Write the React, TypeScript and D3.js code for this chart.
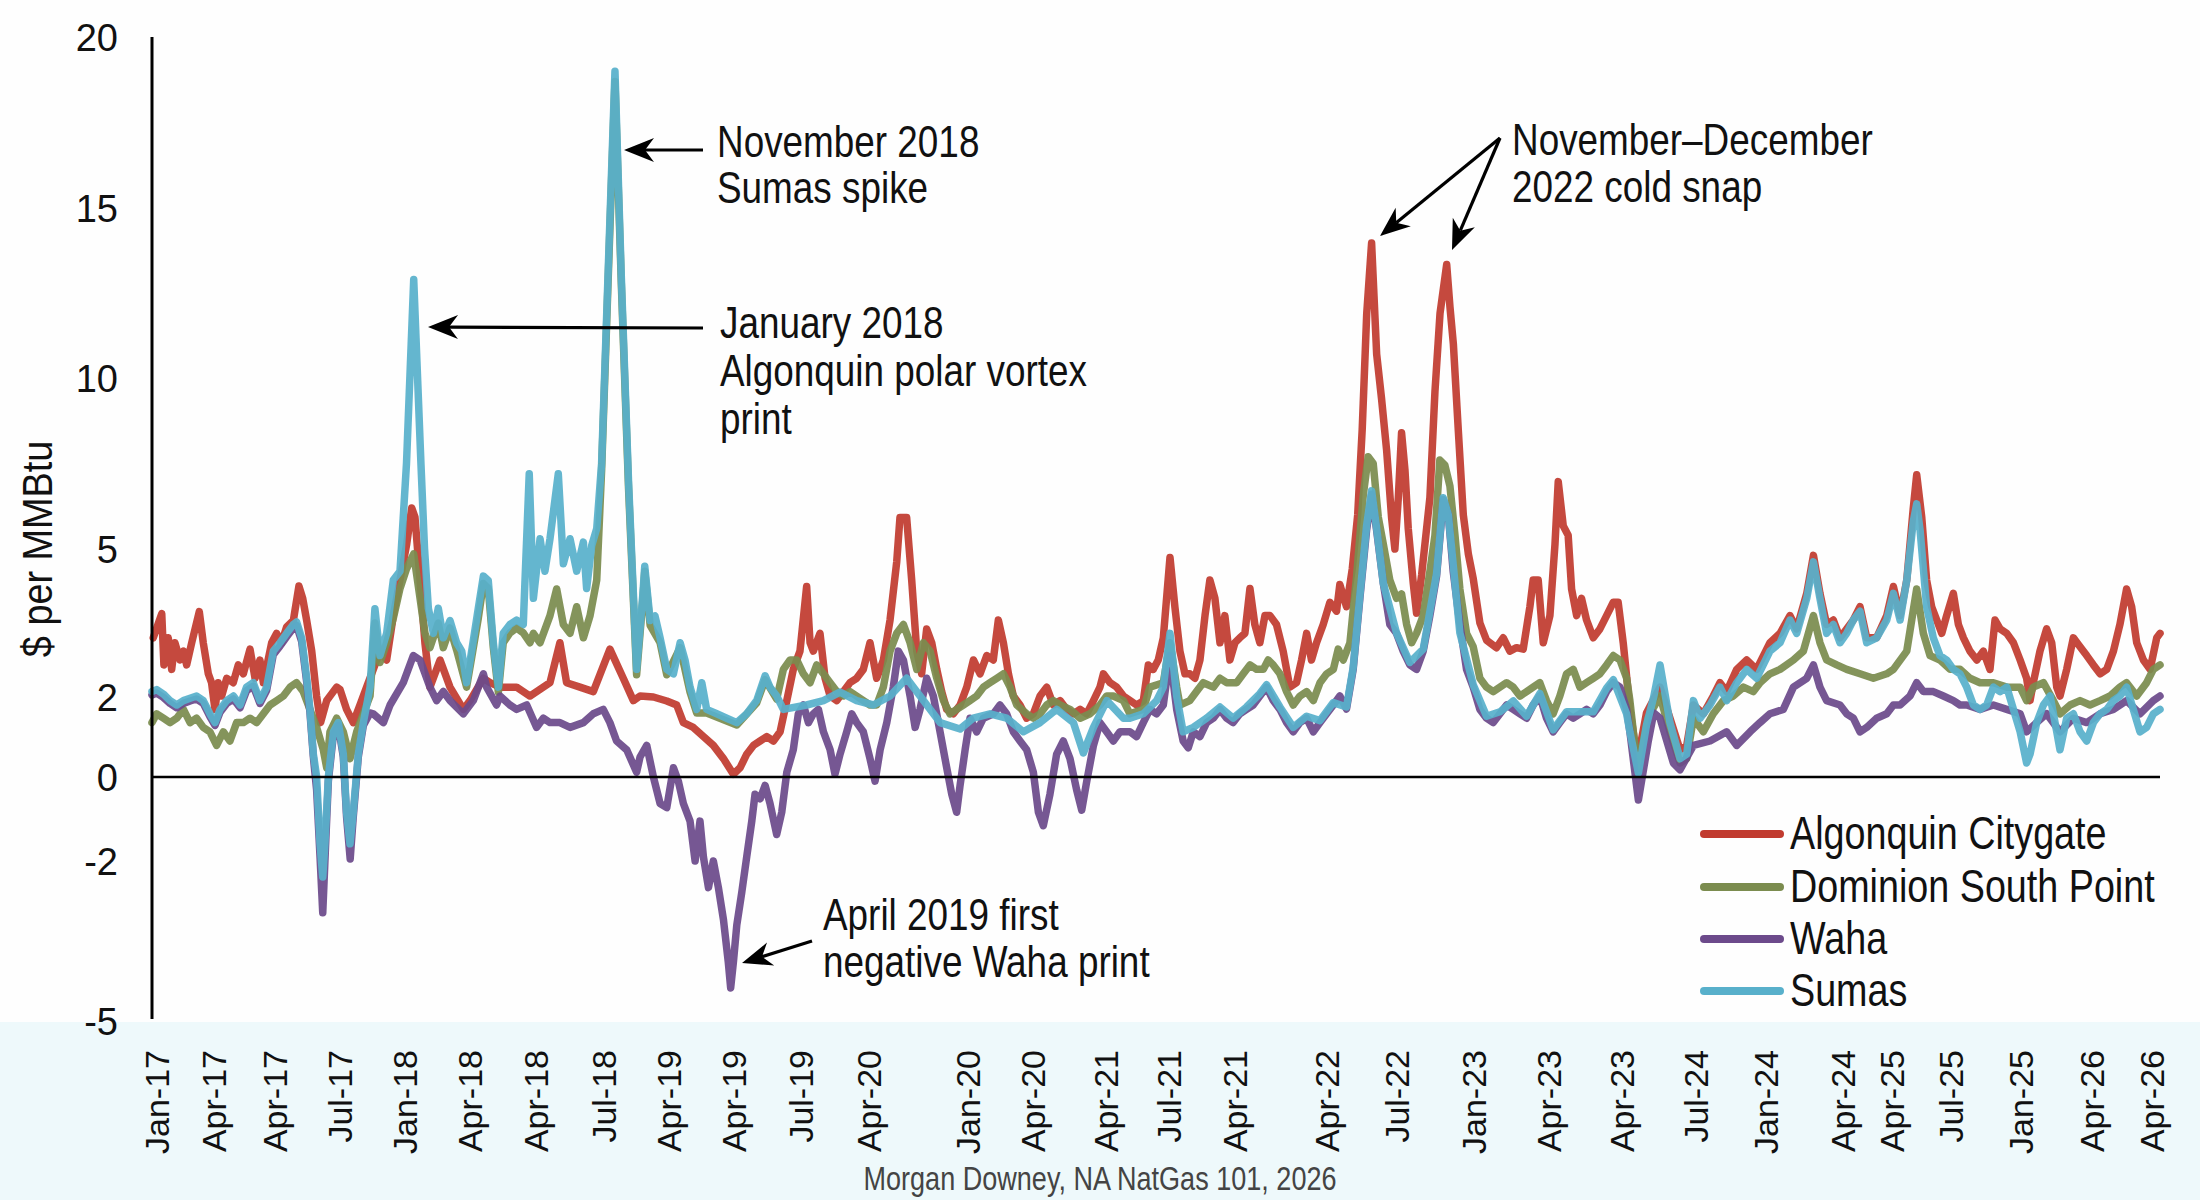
import React from "react";
import * as d3 from "d3";

type Pt = [number, number];

// x values are months since Jan-2017, y values are $ per MMBtu
const seriesNames = ["Algonquin Citygate", "Dominion South Point", "Waha", "Sumas"];
const seriesColors = ["#c13b2f", "#7b8c4f", "#6c4a8b", "#58b0cb"];

const algonquin: Pt[] = [
  [0.07,3.2],[0.54,3.69],[0.66,2.65],[0.9,3.2],[1.09,2.56],[1.27,3.1],[1.55,2.75],[1.74,2.93],[1.92,2.65],[2.2,3.1],[2.62,3.73],[2.84,3.1],[3.12,2.47],[3.3,2.29],[3.49,1.69],[3.67,2.29],[3.86,2.02],[4.14,2.38],[4.5,2.29],[4.78,2.65],[5.06,2.47],[5.43,2.97],[5.71,2.38],[5.98,2.75],[6.17,2.29],[6.63,3.1],[6.9,3.29],[7.18,3.1],[7.46,3.42],[7.83,3.55],[8.14,4.25],[8.35,4.0],[8.57,3.55],[8.85,2.93],[9.12,2.02],[9.34,1.36],[9.68,1.91],[10.23,2.2],[10.42,2.15],[10.78,1.69],[11.15,1.36],[11.52,1.8],[11.89,2.2],
  [12.26,2.56],[12.63,2.93],[13.0,2.75],[13.37,3.65],[13.74,4.37],[14.11,5.14],[14.39,6.2],[14.57,5.93],[14.85,4.37],[15.12,3.1],[15.4,2.2],[15.96,2.75],[16.51,2.2],[17.25,1.69],[17.62,1.91],[18.36,2.38],[18.73,2.29],[19.28,2.2],[20.2,2.2],[20.94,2.02],[22.05,2.29],[22.6,3.1],[22.97,2.29],[23.71,2.2],[24.45,2.11],[25.37,2.97],[26.11,2.38],[26.67,1.91],
  [27.04,2.02],[27.78,2.0],[28.52,1.9],[29.07,1.8],[29.44,1.36],[29.99,1.24],[30.55,1.01],[31.1,0.79],[31.66,0.46],[32.21,0.07],[32.58,0.23],[32.95,0.57],[33.32,0.79],[33.69,0.9],[34.06,1.01],[34.43,0.9],[34.8,1.13],[35.17,1.91],[35.53,2.56],[35.9,2.93],[36.27,4.24],[36.46,3.1],[36.64,2.93],[37.01,3.29],[37.29,2.38],[37.57,2.02],[37.94,1.91],[38.3,2.11],[38.67,2.29],[39.04,2.38],[39.41,2.56],[39.78,3.1],[40.15,2.38],[40.52,2.75],[40.89,3.56],[41.26,4.74],[41.44,5.92],[41.81,5.92],[42.09,4.37],[42.37,2.93],[42.64,2.47],[42.92,3.38],[43.2,3.1],[43.48,2.56],[43.75,2.11],[44.03,1.69],[44.4,1.58],[44.77,1.8],[45.14,2.2],[45.51,2.75],[45.88,2.47],[46.25,2.84],[46.61,2.75],[46.89,3.56],[47.17,3.1],[47.45,2.47],[47.72,2.02],[48.09,1.8],[48.46,1.47],[48.83,1.58],[49.2,2.02],[49.57,2.2],[49.94,1.8],[50.31,1.91],[50.68,1.69],[51.05,1.58],[51.42,1.69],[51.79,1.58],[52.16,1.91],[52.52,2.2],[52.71,2.47],[53.08,2.29],[53.45,2.2],[53.82,2.02],[54.19,1.91],
  [54.55,1.8],[54.92,1.9],[55.2,2.65],[55.47,2.56],[55.75,2.75],[56.03,3.2],[56.4,4.83],[56.67,3.83],[56.95,2.93],[57.23,2.47],[57.5,2.47],[57.78,2.38],[58.06,2.75],[58.34,3.65],[58.61,4.37],[58.89,4.0],[59.17,3.1],[59.44,3.65],[59.72,2.75],[60.0,3.1],[60.27,3.2],[60.55,3.29],[60.83,4.2],[61.1,3.47],[61.38,3.1],[61.66,3.65],[61.94,3.65],[62.3,3.47],[62.67,2.93],[63.04,2.2],[63.41,2.29],[63.69,2.75],[63.97,3.29],[64.24,2.75],[64.52,3.1],[64.89,3.47],[65.26,3.92],[65.63,3.74],[65.81,4.28],[66.18,3.83],[66.5,4.6],[66.8,6.0],[67.05,8.5],[67.3,11.9],[67.57,13.97],[67.85,10.7],[68.12,9.4],[68.4,7.9],[68.68,5.9],[68.86,5.0],[69.05,6.5],[69.23,8.4],[69.42,7.3],[69.6,5.6],[69.88,4.3],[70.06,3.7],[70.34,4.47],[70.8,6.5],[71.08,9.6],[71.36,11.9],[71.73,13.34],[71.91,12.1],[72.1,11.0],[72.37,8.5],[72.65,6.0],[72.93,4.9],[73.2,4.4],[73.57,3.5],[73.94,3.15],[74.12,3.1],[74.49,3.0],[74.86,3.2],[75.23,2.93],[75.6,3.0],[75.97,2.97],[76.34,3.83],[76.52,4.37],[76.8,4.37],[77.08,3.1],[77.45,3.65],[77.73,5.14],[77.91,6.97],[78.19,5.67],[78.46,5.4],[78.65,4.19],[78.93,3.65],[79.2,4.0],[79.48,3.56],[79.85,3.2],[80.22,3.38],[80.59,3.65],[80.96,3.92],[81.23,3.92],[81.51,3.1],[81.88,1.7],[82.3,0.4],[82.8,1.6],
  [83.55,2.2],[84.1,1.47],[84.66,0.68],[85.03,0.79],[85.4,1.8],[85.95,1.58],[86.5,2.02],[86.87,2.29],[87.24,2.11],[87.8,2.56],[88.35,2.75],[88.9,2.56],[89.64,3.1],[90.2,3.29],[90.75,3.65],[91.12,3.38],[91.68,4.1],[92.05,4.87],[92.41,4.1],[92.78,3.47],[93.15,3.56],[93.52,3.2],[93.89,3.38],[94.26,3.56],[94.63,3.83],[95.0,3.2],[95.55,3.2],[96.11,3.65],[96.48,4.24],[96.85,3.65],[97.22,4.37],[97.58,6.19],[97.77,7.17],[98.05,5.93],[98.32,4.37],[98.6,3.83],[98.88,3.56],[99.16,3.29],[99.43,3.65],[99.8,4.1],[100.08,3.47],[100.36,3.2],[100.72,2.93],[101.1,2.75],[101.46,2.93],[101.83,2.56],[102.11,3.56],[102.39,3.38],[102.76,3.29],[103.13,3.1],[103.5,2.75],[103.86,2.38],[104.05,1.91],[104.23,2.29],[104.6,2.93],[104.97,3.38],[105.25,3.1],[105.53,2.2],[105.71,2.02],[106.08,2.56],[106.45,3.2],[106.82,3.02],[107.19,2.84],[107.56,2.65],[107.93,2.47],[108.3,2.56],[108.67,2.93],[109.03,3.47],[109.4,4.19],[109.68,3.83],[109.96,3.1],[110.33,2.75],[110.7,2.56],[111.07,3.2],[111.25,3.29],
];

const dominion: Pt[] = [
  [0,1.36],[0.26,1.58],[0.63,1.47],[1.0,1.36],[1.37,1.47],[1.74,1.69],[2.11,1.36],[2.47,1.47],[2.84,1.24],[3.21,1.13],[3.58,0.79],[3.95,1.13],[4.32,0.9],[4.69,1.36],[5.06,1.36],[5.43,1.47],[5.8,1.36],[6.17,1.58],[6.54,1.8],[6.91,1.91],[7.28,2.02],[7.65,2.2],[8.01,2.29],[8.38,2.11],[8.75,1.69],[9.12,1.24],[9.49,0.68],[9.68,0.23],[9.86,1.13],[10.23,1.47],[10.6,1.13],[10.97,0.46],[11.34,1.13],[11.71,1.58],[12.08,2.02],
  [12.35,3.5],[12.63,2.7],[13.0,3.1],[13.37,3.6],[13.74,4.2],[14.1,4.6],[14.5,4.9],[14.85,4.0],[15.12,3.3],[15.4,3.0],[15.86,3.5],[16.14,3.0],[16.51,3.4],[16.88,2.95],[17.43,2.2],[17.71,2.8],[18.08,3.6],[18.36,4.3],[18.63,4.2],[18.91,3.0],[19.19,2.1],[19.46,3.1],[19.83,3.3],[20.2,3.4],[20.57,3.3],[20.94,3.1],[21.13,3.29],[21.5,3.1],[22.05,3.65],[22.42,4.19],[22.79,3.47],[23.16,3.29],[23.53,3.83],[23.9,3.2],[24.27,3.65],[24.64,4.37],[24.91,7.3],[25.65,18.7],[26.0,12.8],[26.4,6.8],[26.85,2.45],[27.2,4.0],[27.3,4.55],[27.6,3.45],[28.15,3.1],[28.52,2.45],[29.26,3.0],[29.81,2.1],[30.18,1.6],[30.73,1.6],[31.84,1.4],[32.4,1.3],[33.5,1.85],[33.97,2.35],[34.61,1.95],
  [34.98,2.56],[35.35,2.75],[35.72,2.75],[36.09,2.47],[36.46,2.29],[36.83,2.65],[37.2,2.47],[37.57,2.29],[37.94,2.11],[38.3,2.02],[38.67,2.11],[39.04,2.02],[39.41,1.91],[39.78,1.8],[40.15,1.8],[40.52,2.2],[40.89,2.93],[41.26,3.29],[41.63,3.47],[42.0,3.1],[42.37,2.56],[42.74,3.1],[43.11,2.93],[43.48,2.38],[43.85,1.91],[44.21,1.58],[44.58,1.69],[44.95,1.8],[45.32,1.91],[45.69,2.02],[46.06,2.2],[46.43,2.29],[46.8,2.38],[47.17,2.47],[47.54,2.2],[47.91,1.8],[48.46,1.58],[48.83,1.47],[49.2,1.58],[49.57,1.8],[49.94,1.91],[50.31,1.8],[50.86,1.69],[51.42,1.47],[51.97,1.58],[52.52,1.8],[52.89,2.02],[53.26,2.02],[53.82,1.91],
  [54.18,1.58],[54.92,1.69],[55.29,2.2],[56.03,2.29],[56.4,3.1],[56.77,2.2],[56.95,1.8],[57.5,1.91],[57.87,2.11],[58.24,2.29],[58.8,2.2],[59.17,2.38],[59.54,2.29],[60.09,2.29],[60.46,2.47],[60.83,2.65],[61.2,2.56],[61.57,2.56],[61.84,2.75],[62.12,2.65],[62.49,2.47],[62.86,2.11],[63.23,1.8],[63.6,2.02],[63.97,2.11],[64.34,1.91],[64.71,2.29],[65.08,2.47],[65.45,2.56],[65.72,2.97],[66.0,2.75],[66.37,3.1],[66.74,4.45],[67.11,6.58],[67.38,7.7],[67.66,7.5],[67.94,5.93],[68.22,5.14],[68.58,4.37],[68.95,4.0],[69.23,4.09],[69.51,3.47],[69.79,3.1],[70.06,3.29],[70.43,3.65],[70.8,4.55],[71.08,5.4],[71.35,7.6],[71.63,7.45],[71.91,6.84],[72.19,5.4],[72.46,4.19],[72.83,3.29],[73.2,3.02],[73.57,2.38],[73.94,2.2],[74.31,2.11],[74.68,2.2],[75.05,2.29],[75.42,2.2],[75.79,2.02],[76.16,2.11],[76.52,2.2],[76.89,2.29],[77.26,1.91],[77.63,1.58],[78.0,2.02],[78.37,2.47],[78.74,2.56],[79.11,2.2],[79.48,2.29],[79.85,2.38],[80.22,2.47],[80.59,2.65],[80.96,2.84],[81.33,2.75],[81.7,2.38],[81.88,1.91],[82.3,0.2],[82.9,1.5],
  [83.55,2.02],[84.1,1.13],[84.66,0.35],[85.03,0.46],[85.4,1.47],[85.95,1.13],[86.5,1.58],[87.06,1.91],[87.61,2.02],[88.17,2.2],[88.72,2.11],[89.09,2.29],[89.64,2.47],[90.2,2.56],[90.94,2.75],[91.49,2.93],[92.05,3.65],[92.41,3.1],[92.78,2.75],[93.34,2.65],[93.89,2.56],[94.63,2.47],[95.37,2.38],[96.11,2.47],[96.48,2.56],[97.22,2.93],[97.77,4.19],[98.14,3.29],[98.51,2.84],[99.06,2.75],[99.62,2.56],[100.17,2.56],[100.72,2.38],[101.28,2.29],[102.02,2.29],[102.76,2.2],[103.5,2.2],[103.86,1.91],[104.23,2.2],[104.79,2.29],[105.34,1.91],[105.71,1.58],[106.27,1.8],[106.82,1.91],[107.37,1.8],[107.93,1.91],[108.48,2.02],[109.03,2.2],[109.4,2.29],[109.96,2.02],[110.51,2.29],[110.88,2.56],[111.25,2.65],
];

const waha: Pt[] = [
  [0,2.04],[0.26,2.08],[0.63,1.99],[1.0,1.84],[1.37,1.73],[1.74,1.84],[2.11,1.9],[2.47,1.95],[2.84,1.84],[3.21,1.51],[3.49,1.29],[3.77,1.62],[4.14,1.84],[4.51,1.95],[4.88,1.73],[5.24,2.13],[5.61,2.22],[5.98,1.84],[6.35,2.13],[6.72,2.86],[7.09,3.03],[7.46,3.22],[7.83,3.4],[8.01,3.45],[8.29,3.13],[8.57,2.31],[8.75,1.62],[8.94,0.5],[9.12,-0.3],[9.31,-1.9],[9.46,-2.97],[9.6,-1.8],[9.77,-0.1],[10.05,1.06],[10.32,1.29],[10.6,0.5],[10.78,-0.95],[10.98,-1.95],[11.15,-0.95],[11.43,0.5],[11.71,1.29],[12.08,1.6],
  [12.26,1.58],[12.82,1.36],[13.19,1.8],[13.92,2.29],[14.48,2.84],[14.85,2.75],[15.4,2.2],[15.77,1.91],[16.14,2.11],[16.51,1.91],[17.25,1.58],[17.8,1.91],[18.36,2.47],[18.54,2.2],[19.09,1.8],[19.28,2.02],[19.83,1.8],[20.2,1.69],[20.76,1.8],[21.31,1.24],[21.68,1.47],[22.05,1.36],[22.6,1.36],[23.16,1.24],[23.9,1.36],[24.45,1.58],[25.0,1.69],[25.37,1.36],[25.74,0.9],[26.3,0.68],[26.85,0.12],[27.04,0.5],[27.41,0.79],[27.78,0.0],
  [28.15,-0.63],[28.52,-0.73],[28.89,0.23],[29.16,-0.1],[29.44,-0.63],[29.81,-1.05],[30.09,-2.0],[30.36,-1.05],[30.55,-1.9],[30.83,-2.5],[31.1,-2.0],[31.38,-2.5],[31.66,-3.1],[31.93,-3.9],[32.06,-4.38],[32.21,-3.9],[32.4,-3.2],[32.67,-2.6],[32.95,-1.9],[33.23,-1.05],[33.41,-0.41],[33.69,-0.52],[33.97,-0.2],[34.24,-0.63],[34.61,-1.37],[34.89,-0.84],[35.17,0.12],[35.53,0.68],[35.81,1.58],[36.09,1.8],[36.37,1.36],[36.64,1.58],[36.92,1.69],[37.2,1.13],[37.57,0.68],[37.84,0.07],[38.12,0.57],[38.49,1.13],[38.77,1.58],[39.04,1.36],[39.41,1.13],[39.78,0.46],[40.06,-0.1],[40.34,0.68],[40.71,1.36],[41.07,2.2],[41.35,2.93],[41.63,2.75],[42.0,2.02],[42.28,1.24],[42.55,1.69],[42.92,2.38],[43.29,2.02],[43.66,1.13],[44.03,0.23],[44.31,-0.41],[44.58,-0.84],[44.77,-0.2],[45.05,0.68],[45.32,1.47],[45.69,1.13],[46.06,1.47],[46.62,1.58],[46.98,1.8],[47.35,1.58],[47.72,1.13],[48.09,0.9],[48.46,0.68],[48.83,0.12],[49.11,-0.84],[49.38,-1.16],[49.75,-0.41],[50.12,0.57],[50.49,0.9],[50.86,0.46],[51.23,-0.31],[51.51,-0.79],[51.79,-0.1],[52.16,0.79],[52.52,1.36],[52.89,1.13],[53.26,0.9],[53.63,1.13],
  [54.18,1.13],[54.55,1.01],[54.92,1.36],[55.29,1.69],[55.66,1.58],[56.03,1.8],[56.4,2.84],[56.77,1.69],[57.13,0.9],[57.41,0.73],[57.69,1.13],[58.06,1.01],[58.43,1.36],[58.8,1.47],[59.17,1.69],[59.54,1.47],[59.9,1.36],[60.27,1.58],[60.64,1.69],[61.01,1.8],[61.38,2.02],[61.75,2.2],[62.12,1.91],[62.49,1.69],[62.86,1.36],[63.23,1.13],[63.6,1.36],[63.97,1.47],[64.34,1.13],[64.71,1.36],[65.08,1.58],[65.45,1.8],[65.81,2.02],[66.18,1.7],[66.55,2.56],[66.92,4.0],[67.29,5.54],[67.57,6.6],[67.85,5.54],[68.22,4.3],[68.58,3.47],[68.95,3.29],[69.32,2.93],[69.69,2.65],[70.06,2.56],[70.43,2.93],[70.8,3.65],[71.17,4.45],[71.54,6.45],[71.82,6.0],[72.09,4.55],[72.46,3.47],[72.83,2.56],[73.2,2.2],[73.57,1.69],[73.94,1.47],[74.31,1.36],[74.68,1.58],[75.05,1.8],[75.42,1.69],[75.79,1.58],[76.16,1.47],[76.52,1.8],[76.89,2.02],[77.26,1.47],[77.63,1.13],[78.0,1.36],[78.37,1.58],[78.74,1.47],[79.11,1.58],[79.48,1.69],[79.85,1.58],[80.22,1.8],[80.59,2.11],[80.96,2.29],[81.33,2.2],[81.7,1.69],[81.88,1.13],[82.35,-0.55],[82.9,0.9],[83.2,1.6],
  [83.55,1.47],[84.29,0.35],[84.66,0.18],[85.4,0.79],[86.32,0.9],[87.24,1.13],[87.8,0.79],[88.54,1.13],[89.09,1.36],[89.64,1.58],[90.38,1.69],[90.94,2.2],[91.68,2.38],[92.05,2.65],[92.41,2.2],[92.78,1.91],[93.52,1.8],[93.89,1.58],[94.26,1.47],[94.63,1.13],[95.0,1.24],[95.55,1.47],[96.11,1.58],[96.48,1.8],[96.85,1.8],[97.4,2.02],[97.77,2.29],[98.14,2.11],[98.69,2.11],[99.25,2.02],[99.8,1.91],[100.17,1.8],[100.54,1.8],[101.28,1.69],[102.02,1.8],[102.76,1.69],[103.5,1.58],[103.86,1.13],[104.42,1.36],[104.97,1.58],[105.71,1.13],[106.45,1.47],[107.19,1.36],[107.93,1.58],[108.67,1.69],[109.4,1.91],[110.14,1.58],[110.88,1.91],[111.25,2.02],
];

const sumas: Pt[] = [
  [0,2.11],[0.26,2.15],[0.63,2.06],[1.0,1.91],[1.37,1.8],[1.74,1.91],[2.11,1.97],[2.47,2.02],[2.84,1.91],[3.21,1.58],[3.49,1.36],[3.77,1.69],[4.14,1.91],[4.51,2.02],[4.88,1.8],[5.24,2.2],[5.61,2.29],[5.98,1.91],[6.35,2.2],[6.72,2.93],[7.09,3.1],[7.46,3.29],[7.83,3.47],[8.01,3.52],[8.29,3.2],[8.57,2.38],[8.75,1.69],[8.94,0.57],[9.12,0.01],[9.31,-1.59],[9.46,-2.3],[9.58,-1.59],[9.77,0],[10.05,1.13],[10.32,1.36],[10.6,0.57],[10.78,-0.84],[10.97,-1.59],[11.15,-0.84],[11.43,0.57],[11.71,1.36],[12.08,2.2],
  [12.35,3.79],[12.63,2.84],[13.0,3.29],[13.37,4.37],[13.74,4.55],[14.1,7.5],[14.5,12.9],[14.9,7.5],[15.1,5.0],[15.31,3.8],[15.59,3.29],[15.86,3.8],[16.14,3.2],[16.51,3.55],[16.88,3.1],[17.16,2.93],[17.43,2.29],[17.71,2.93],[18.08,3.8],[18.36,4.45],[18.63,4.36],[18.91,3.1],[19.19,2.2],[19.46,3.29],[19.83,3.47],[20.2,3.56],[20.57,3.47],[20.9,7.2],[21.13,4.0],[21.5,5.3],[21.77,4.55],[22.05,5.3],[22.51,7.2],[22.79,4.7],[23.16,5.3],[23.53,4.55],[23.9,5.2],[24.08,4.2],[24.36,5.1],[24.64,5.6],[24.91,7.5],[25.65,19.0],[26.0,13.0],[26.4,7.0],[26.85,2.56],[27.2,4.1],[27.3,4.65],
  [27.6,3.55],[27.87,3.64],[28.15,3.2],[28.52,2.56],[28.89,2.47],[29.26,3.1],[29.53,2.75],[29.81,2.2],[30.18,1.69],[30.46,2.29],[30.73,1.69],[31.29,1.58],[31.84,1.47],[32.4,1.36],[32.95,1.58],[33.5,1.91],[33.97,2.43],[34.24,2.2],[34.61,2.02],[34.98,1.69],[36.27,1.8],[37.2,1.91],[38.12,2.1],[39.04,1.91],[39.97,1.8],[40.89,2.02],[41.81,2.38],[42.74,1.91],[43.66,1.36],[44.77,1.2],[45.5,1.47],[46.43,1.58],[47.35,1.47],[48.28,1.13],[49.2,1.36],[50.12,1.69],[51.05,1.36],[51.6,0.6],[52.16,1.24],[52.9,1.91],[53.82,1.47],
  [54.18,1.47],[54.92,1.58],[55.66,1.91],[56.03,2.2],[56.4,3.29],[56.77,2.02],[57.13,1.13],[57.69,1.24],[58.43,1.47],[59.17,1.75],[59.9,1.47],[60.64,1.75],[61.38,2.07],[61.75,2.25],[62.49,1.75],[63.23,1.24],[63.97,1.52],[64.71,1.41],[65.45,1.86],[66.18,1.75],[66.55,2.6],[66.92,4.05],[67.29,5.67],[67.57,6.7],[67.85,5.6],[68.22,4.3],[68.95,3.3],[69.69,2.7],[70.43,2.97],[71.17,4.5],[71.54,6.5],[71.82,6.0],[72.46,3.3],[73.2,2.25],[73.94,1.52],[74.68,1.63],[75.42,1.9],[76.16,1.52],[76.89,2.07],[77.63,1.18],[78.37,1.63],[79.11,1.63],[79.85,1.63],[80.59,2.18],[80.96,2.35],[81.7,1.58],[81.88,1.13],[82.35,0.1],[82.8,1.3],[83.2,2.0],
  [83.55,2.65],[84.1,1.36],[84.66,0.46],[85.03,0.57],[85.4,1.91],[85.77,1.47],[86.32,1.8],[86.87,2.2],[87.24,1.91],[87.8,2.29],[88.35,2.56],[88.9,2.38],[89.64,2.93],[90.2,3.1],[90.75,3.56],[91.12,3.29],[91.68,4.0],[92.05,4.74],[92.41,4.0],[92.78,3.29],[93.15,3.47],[93.52,3.1],[93.89,3.29],[94.26,3.56],[94.63,3.74],[95.0,3.1],[95.55,3.2],[96.11,3.56],[96.48,4.1],[96.85,3.56],[97.22,4.37],[97.58,5.8],[97.77,6.32],[97.96,5.54],[98.32,3.83],[98.69,3.2],[99.06,2.84],[99.43,2.75],[99.8,2.56],[100.17,2.47],[100.54,2.2],[100.91,1.8],[101.28,1.69],[101.65,1.8],[102.02,2.2],[102.39,2.11],[102.76,2.2],[103.13,1.69],[103.5,1.13],[103.86,0.35],[104.05,0.57],[104.42,1.36],[104.79,1.8],[105.16,2.02],[105.53,1.13],[105.71,0.68],[106.08,1.47],[106.45,1.58],[106.82,1.13],[107.19,0.9],[107.56,1.36],[107.93,1.58],[108.3,1.69],[108.67,1.91],[109.03,2.02],[109.4,2.2],[109.77,1.69],[110.14,1.13],[110.51,1.24],[110.88,1.58],[111.25,1.69],
];

const yTickValues = [-5, -2, 0, 2, 5, 10, 15, 20];

const xTickLabels = ["Jan-17","Apr-17","Apr-17","Jul-17","Jan-18","Apr-18","Apr-18","Jul-18","Apr-19","Apr-19","Jul-19","Apr-20","Jan-20","Apr-20","Apr-21","Jul-21","Apr-21","Apr-22","Jul-22","Jan-23","Apr-23","Apr-23","Jul-24","Jan-24","Apr-24","Apr-25","Jul-25","Jan-25","Apr-26","Apr-26"];
const xTickMonths = [0.28,3.43,6.81,10.42,14.02,17.62,21.27,25.04,28.64,32.24,35.96,39.72,45.21,48.81,52.85,56.34,59.99,65.1,68.98,73.24,77.4,81.44,85.54,89.42,93.68,96.4,99.67,103.55,107.48,110.8];

const seriesData = [algonquin, dominion, waha, sumas];

const REG = "'Liberation Sans', Arial, Helvetica, sans-serif";

// condensed text: regular sans squeezed horizontally
function NarrowText({
  x, y, children, size = 45, anchor = "start", fill = "#111",
}: { x: number; y: number; children: React.ReactNode; size?: number; anchor?: string; fill?: string }) {
  return (
    <text
      transform={`translate(${x},${y}) scale(0.82,1)`}
      fontFamily={REG}
      fontSize={size}
      textAnchor={anchor as any}
      fill={fill}
    >
      {children}
    </text>
  );
}

function Arrow({ x1, y1, x2, y2 }: { x1: number; y1: number; x2: number; y2: number }) {
  const a = Math.atan2(y2 - y1, x2 - x1);
  const L = 30, Wd = 12, notch = 21;
  const ex = x2 - Math.cos(a) * notch;
  const ey = y2 - Math.sin(a) * notch;
  return (
    <g>
      <line x1={x1} y1={y1} x2={ex} y2={ey} stroke="#000" strokeWidth={3.2} />
      <path
        d={`M0,0 L${-L},${-Wd} L${-notch},0 L${-L},${Wd} Z`}
        fill="#000"
        transform={`translate(${x2},${y2}) rotate(${(a * 180) / Math.PI})`}
      />
    </g>
  );
}

export default function App() {
  const W = 2200, H = 1200;
  const x = d3.scaleLinear().domain([0, 111.25]).range([152, 2160]);
  const y = d3
    .scaleLinear()
    .domain(yTickValues)
    .range([1021, 861, 777, 697, 549, 378, 208, 37]);
  const line = d3
    .line<Pt>()
    .x((d) => x(d[0]))
    .y((d) => y(d[1]))
    .curve(d3.curveLinear);

  const legendY = [834, 887, 939, 991];

  return (
    <svg
      width={W}
      height={H}
      viewBox={`0 0 ${W} ${H}`}
      style={{ position: "absolute", left: 0, top: 0, display: "block" }}
    >
      <rect x={0} y={0} width={W} height={H} fill="#fefefe" />
      <rect x={0} y={1022} width={W} height={H - 1022} fill="#eef9fb" />

      {/* series lines */}
      {seriesData.map((s, i) => (
        <path
          key={seriesNames[i]}
          d={line(s) || ""}
          fill="none"
          stroke={seriesColors[i]}
          strokeWidth={7.5}
          strokeLinejoin="round"
          strokeLinecap="round"
          opacity={0.93}
        />
      ))}

      {/* zero line */}
      <line x1={x(0)} x2={x(111.25)} y1={y(0)} y2={y(0)} stroke="#000" strokeWidth={2.6} />
      {/* y axis */}
      <line x1={152} x2={152} y1={y(20)} y2={y(-5) - 2} stroke="#000" strokeWidth={3} />

      {/* y ticks */}
      {yTickValues.map((v) => (
        <text
          key={v}
          x={118}
          y={y(v)}
          dy="0.36em"
          textAnchor="end"
          fontFamily={REG}
          fontSize={38}
          fill="#111"
        >
          {v}
        </text>
      ))}
      <text
        transform="translate(52,549) rotate(-90) scale(0.9,1)"
        textAnchor="middle"
        fontFamily={REG}
        fontSize={42}
        fill="#111"
      >
        $ per MMBtu
      </text>

      {/* x tick labels */}
      {xTickLabels.map((lab, i) => (
        <text
          key={i}
          transform={`translate(${x(xTickMonths[i])},1050) rotate(-90)`}
          dy="0.36em"
          textAnchor="end"
          fontFamily={REG}
          fontSize={34}
          fill="#111"
        >
          {lab}
        </text>
      ))}

      {/* annotations */}
      <NarrowText x={717} y={157}>November 2018</NarrowText>
      <NarrowText x={717} y={203}>Sumas spike</NarrowText>
      <NarrowText x={720} y={338}>January 2018</NarrowText>
      <NarrowText x={720} y={386}>Algonquin polar vortex</NarrowText>
      <NarrowText x={720} y={434}>print</NarrowText>
      <NarrowText x={823} y={930}>April 2019 first</NarrowText>
      <NarrowText x={823} y={977}>negative Waha print</NarrowText>
      <NarrowText x={1512} y={155}>November–December</NarrowText>
      <NarrowText x={1512} y={202}>2022 cold snap</NarrowText>
      <Arrow x1={703} y1={150} x2={624} y2={150} />
      <Arrow x1={703} y1={328} x2={428} y2={327} />
      <Arrow x1={812} y1={941} x2={742} y2={963} />
      <Arrow x1={1500} y1={138} x2={1380} y2={236} />
      <Arrow x1={1500} y1={138} x2={1452} y2={250} />

      {/* legend */}
      {seriesNames.map((n, i) => (
        <g key={n}>
          <line
            x1={1704}
            x2={1780}
            y1={legendY[i]}
            y2={legendY[i]}
            stroke={seriesColors[i]}
            strokeWidth={8}
            strokeLinecap="round"
          />
          <NarrowText x={1790} y={legendY[i] + 15} size={46}>
            {n}
          </NarrowText>
        </g>
      ))}

      {/* footer */}
      <NarrowText x={1100} y={1190} size={33} anchor="middle" fill="#444">
        Morgan Downey, NA NatGas 101, 2026
      </NarrowText>
    </svg>
  );
}
